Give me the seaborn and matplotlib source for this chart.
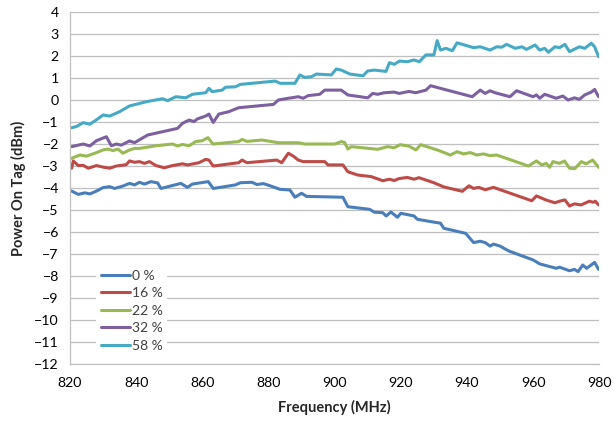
"""Power on tag vs frequency for five percentage levels (Excel-style line chart)."""

import matplotlib
matplotlib.use("Agg")
import matplotlib.pyplot as plt
import pandas as pd
import seaborn as sns

# ---- data (MHz, dBm) ----
FREQ_0 = [820.5, 822.5, 824.5, 826, 828, 830, 832, 833.5, 836, 838, 839.5, 841, 842.5, 844.5,
          846.5, 847.5, 853.5, 855.5, 857, 861.8, 863.3, 870, 871.5, 875, 876.5, 878.5, 880.5,
          883.5, 886.5, 888, 890, 891.5, 902.5, 904, 910.6, 912, 914.5, 915.6, 917, 919, 920,
          924, 925, 928, 932, 933, 939.6, 942, 944, 945.5, 947, 948, 950, 952.6, 960, 962, 967,
          968, 971, 972.5, 973.6, 975, 976.2, 978.6, 979.8]
PWR_0 = [-4.14, -4.29, -4.22, -4.27, -4.14, -3.98, -3.94, -4.02, -3.91, -3.79, -3.86, -3.74,
         -3.82, -3.71, -3.77, -4.02, -3.79, -3.97, -3.82, -3.71, -4.02, -3.86, -3.76, -3.74,
         -3.84, -3.80, -3.90, -4.06, -4.09, -4.42, -4.24, -4.38, -4.42, -4.85, -4.97, -5.10,
         -5.12, -5.27, -5.09, -5.33, -5.15, -5.27, -5.42, -5.50, -5.60, -5.83, -6.06, -6.48,
         -6.42, -6.48, -6.64, -6.55, -6.64, -6.86, -7.27, -7.45, -7.65, -7.60, -7.76, -7.70,
         -7.80, -7.50, -7.65, -7.38, -7.70]

FREQ_16 = [820.5, 821, 822.5, 824, 825.5, 828, 830, 832, 834, 837, 838, 839.5, 841, 842.5, 844,
           846, 848.5, 851, 854, 855.5, 859, 861, 862, 863.3, 871, 872, 873.5, 882.5, 884, 886,
           887.5, 889, 890.5, 897, 898, 902.5, 904, 907, 911, 914.6, 916.5, 918, 919.5, 922,
           924, 925.5, 930, 933, 938.6, 940.6, 942, 943.5, 945.6, 948, 959.6, 961, 964, 966.6,
           968, 969.6, 971, 972.5, 974.5, 977, 978.2, 978.8, 979.8]
PWR_16 = [-3.10, -2.77, -2.98, -2.97, -3.10, -2.98, -3.05, -3.10, -3.00, -2.94, -2.77, -2.83,
          -2.80, -2.88, -2.80, -2.98, -3.08, -2.98, -2.90, -2.95, -2.85, -2.70, -2.73, -3.00,
          -2.85, -2.73, -2.85, -2.73, -2.85, -2.42, -2.55, -2.73, -2.80, -2.80, -2.95, -2.95,
          -3.26, -3.41, -3.48, -3.67, -3.60, -3.66, -3.57, -3.52, -3.60, -3.53, -3.76, -3.95,
          -4.15, -3.90, -4.02, -3.97, -4.08, -3.97, -4.58, -4.36, -4.55, -4.67, -4.60, -4.54,
          -4.82, -4.72, -4.77, -4.60, -4.65, -4.60, -4.77]

FREQ_22 = [820.5, 823, 825, 827.5, 830, 831.5, 833, 834.5, 836, 838, 839.5, 841, 846, 851,
           852.5, 854, 856, 858, 860, 861.7, 863.2, 871, 872, 873.5, 878, 883, 889, 891, 900,
           902, 903, 904, 905, 913, 916, 918, 919.8, 922.5, 924.6, 926, 931, 935, 937, 939,
           941, 943, 945, 947, 949, 958.6, 961, 962.6, 964, 965, 966, 968, 969.5, 971, 972.6,
           974.6, 976, 978, 979.8]
PWR_22 = [-2.65, -2.50, -2.55, -2.42, -2.27, -2.23, -2.30, -2.23, -2.42, -2.27, -2.20, -2.20,
          -2.08, -2.00, -2.09, -2.02, -2.08, -1.89, -1.85, -1.71, -2.00, -1.89, -1.79, -1.88,
          -1.82, -1.94, -1.94, -2.00, -2.00, -1.89, -1.93, -2.23, -2.12, -2.24, -2.12, -2.17,
          -2.03, -2.10, -2.27, -2.03, -2.27, -2.50, -2.35, -2.45, -2.39, -2.50, -2.45, -2.53,
          -2.50, -3.00, -2.77, -2.95, -2.88, -3.06, -2.80, -2.88, -2.77, -3.10, -3.12, -2.80,
          -2.90, -2.73, -3.06]

FREQ_32 = [820.5, 824, 826, 828, 831, 832.5, 834, 835.5, 838, 839.5, 843.5, 852.5, 854, 856,
           857.5, 858.5, 861, 862, 863.3, 865, 868, 871, 881.5, 883, 886, 887, 889, 890.5, 892,
           895.5, 897, 902, 904, 910, 911.5, 913, 915, 918, 919.5, 922.5, 924.5, 927.6, 929,
           932, 934, 941.6, 944, 945.5, 947, 948.5, 953, 955, 960, 961, 962, 963.5, 967, 969,
           970.6, 972.5, 974, 975.6, 977.6, 978.6, 979.8]
PWR_32 = [-2.12, -2.00, -2.09, -1.85, -1.67, -2.08, -2.00, -2.05, -1.86, -1.94, -1.59, -1.29,
          -1.06, -0.91, -0.98, -0.86, -0.73, -0.64, -1.02, -0.64, -0.53, -0.35, -0.20, 0.00,
          0.08, 0.10, 0.15, 0.08, 0.20, 0.26, 0.45, 0.45, 0.23, 0.10, 0.30, 0.26, 0.33, 0.36,
          0.30, 0.39, 0.33, 0.45, 0.65, 0.53, 0.45, 0.15, 0.45, 0.30, 0.42, 0.33, 0.15, 0.42,
          0.15, 0.23, 0.08, 0.26, 0.08, 0.18, 0.00, 0.10, 0.03, 0.23, 0.36, 0.48, 0.15]

FREQ_58 = [820.5, 822, 824, 826, 828, 830, 832, 835, 838, 843, 848, 849.5, 852, 855, 857, 861,
           862, 863, 866, 867, 870, 871.5, 882, 883.5, 888, 889.5, 891, 893, 894.5, 899, 900.5,
           902, 904.6, 908.6, 910, 912, 915.5, 916.6, 918, 919.6, 922, 924, 925.6, 927.6, 930,
           931, 932, 933.6, 935.6, 937, 942, 944, 947, 949, 950.5, 952, 954.6, 956.6, 958,
           960.6, 962, 963.5, 964.6, 966.6, 968, 969.6, 971, 974, 975.6, 977.6, 978.6, 979.8]
PWR_58 = [-1.26, -1.20, -1.03, -1.10, -0.90, -0.68, -0.73, -0.53, -0.27, -0.08, 0.06, -0.03,
          0.15, 0.10, 0.26, 0.33, 0.53, 0.38, 0.45, 0.58, 0.60, 0.71, 0.86, 0.76, 0.76, 1.14,
          1.03, 1.06, 1.18, 1.14, 1.41, 1.36, 1.18, 1.10, 1.32, 1.36, 1.30, 1.70, 1.62, 1.77,
          1.74, 1.82, 1.74, 2.05, 2.05, 2.70, 2.27, 2.35, 2.24, 2.60, 2.38, 2.42, 2.27, 2.42,
          2.40, 2.53, 2.35, 2.42, 2.30, 2.50, 2.27, 2.35, 2.17, 2.42, 2.38, 2.53, 2.20, 2.42,
          2.35, 2.58, 2.42, 1.97]

SERIES = ["0 %", "16 %", "22 %", "32 %", "58 %"]
COLORS = ["#4A7EBB", "#BE4B48", "#98B954", "#7D60A0", "#46AAC5"]
X_TICKS = list(range(820, 981, 20))
Y_TICKS = list(range(-12, 5))

INK = "#404040"
GRID = "#BFBFBF"

frames = []
for name, f, p in zip(SERIES,
                      [FREQ_0, FREQ_16, FREQ_22, FREQ_32, FREQ_58],
                      [PWR_0, PWR_16, PWR_22, PWR_32, PWR_58]):
    frames.append(pd.DataFrame({"freq": f, "power": p, "series": name}))
df = pd.concat(frames, ignore_index=True)

sns.set_style("white")
plt.rcParams["font.family"] = ["Lato", "DejaVu Sans"]

fig = plt.figure(figsize=(6.14, 4.29), dpi=100)
ax = fig.add_axes([0.114, 0.1515, 0.862, 0.8205])

sns.lineplot(data=df, x="freq", y="power", hue="series", hue_order=SERIES,
             palette=COLORS, linewidth=2.2, ax=ax, estimator=None, sort=True)

ax.set_xlim(820, 980)
ax.set_ylim(-12, 4)
ax.set_xticks(X_TICKS)
ax.set_yticks(Y_TICKS)
ax.yaxis.grid(True, color=GRID, linewidth=0.9)
ax.xaxis.grid(False)
ax.set_axisbelow(True)

for side in ("top", "right"):
    ax.spines[side].set_visible(False)
for side in ("left", "bottom"):
    ax.spines[side].set_color(GRID)
    ax.spines[side].set_linewidth(0.9)

ax.tick_params(axis="x", direction="out", length=5, width=0.9, color=GRID,
               labelsize=10.2, labelcolor="#000000", pad=4)
ax.tick_params(axis="y", length=0, labelsize=10.2, labelcolor="#000000", pad=8)

ax.set_xlabel("Frequency (MHz)", fontsize=10.5, fontweight="bold", labelpad=8)
ax.set_ylabel("Power On Tag (dBm)", fontsize=10.5, fontweight="bold", labelpad=6)

leg = ax.legend(loc="upper left", bbox_to_anchor=(0.05, 0.28), frameon=True,
                fontsize=10, handlelength=2.1, handletextpad=0.15, labelspacing=0.4,
                borderpad=0.3, borderaxespad=0)
leg.get_frame().set_facecolor("white")
leg.get_frame().set_edgecolor("none")
leg.get_frame().set_alpha(1.0)
for line in leg.get_lines():
    line.set_linewidth(2.2)
for text in leg.get_texts():
    text.set_color(INK)

fig.savefig("out.png", dpi=100)
